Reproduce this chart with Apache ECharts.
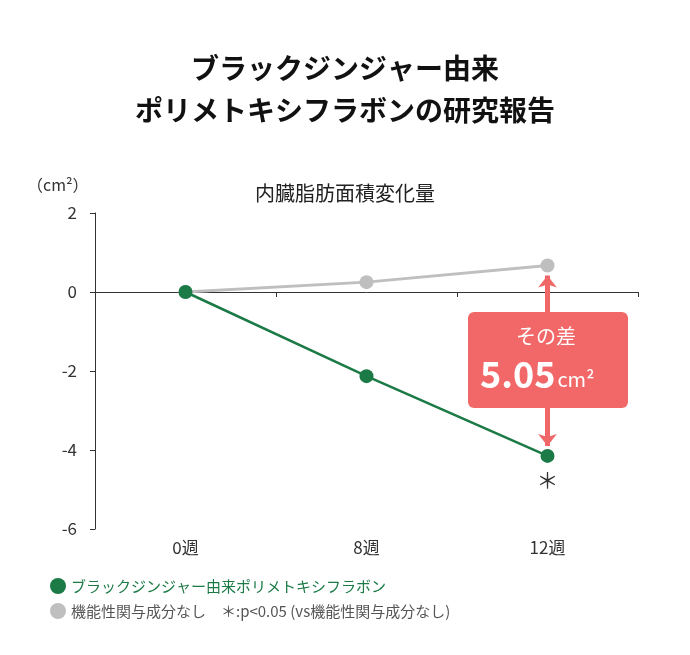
<!DOCTYPE html>
<html><head><meta charset="utf-8">
<script src="https://cdn.jsdelivr.net/npm/echarts@6/dist/echarts.min.js"></script>
<style>html,body{margin:0;background:#fff}#c{width:690px;height:655px}</style>
</head><body><div id="c"></div>
<script>
const categories = ['0週','8週','12週'];
const greenName = 'ブラックジンジャー由来ポリメトキシフラボン';
const grayName = '機能性関与成分なし';
const greenValues = [0, -2.13, -4.15];
const grayValues = [0, 0.25, 0.67];
const yTicks = [-6, -4, -2, 0, 2];
const diffLabel = '5.05';

const F = '"Noto Sans CJK JP","Noto Sans",sans-serif';
const chart = echarts.init(document.getElementById('c'));
chart.setOption({
  textStyle:{fontFamily:F},
  title:[
    {text:'ブラックジンジャー由来\nポリメトキシフラボンの研究報告',left:'center',top:42,
     textStyle:{fontSize:28,fontWeight:'bold',color:'#111',lineHeight:42,fontFamily:F}},
    {text:'内臓脂肪面積変化量',left:'center',top:178,textStyle:{fontSize:20,fontWeight:'normal',color:'#222',fontFamily:F}},
    {text:'（cm²）',left:22,top:172,textStyle:{fontSize:16,fontWeight:'normal',color:'#333',fontFamily:F}}
  ],
  grid:{left:95,right:52,top:213,bottom:126},
  legend:{orient:'vertical',left:45,top:573,itemGap:9,itemWidth:16,itemHeight:16,icon:'circle',
    data:[{name:greenName,textStyle:{color:'#1b7a45'}},{name:grayName,textStyle:{color:'#555'}}],
    formatter:n=>n===grayName? n+'　＊:p<0.05 (vs機能性関与成分なし)':n,
    textStyle:{fontSize:15,fontFamily:F}},
  xAxis:[
    {type:'category',data:categories,boundaryGap:true,axisLine:{onZero:true,lineStyle:{color:'#333'}},
     axisTick:{show:true,length:5,lineStyle:{color:'#333'}},axisLabel:{show:false}},
    {type:'category',data:categories,position:'bottom',offset:0,boundaryGap:true,axisLine:{show:false},axisTick:{show:false},
     axisLabel:{fontSize:17,color:'#333',margin:10}}
  ],
  yAxis:{type:'value',min:-6,max:2,interval:2,axisLine:{show:true,lineStyle:{color:'#333'}},
    axisTick:{show:true,length:5,lineStyle:{color:'#333'}},splitLine:{show:false},
    axisLabel:{fontSize:17,color:'#333',margin:18}},
  series:[
    {name:grayName,type:'line',data:grayValues,symbol:'circle',symbolSize:14,
     itemStyle:{color:'#bfbfbf'},lineStyle:{color:'#bfbfbf',width:3},z:2},
    {name:greenName,type:'line',data:greenValues,symbol:'circle',symbolSize:14,
     itemStyle:{color:'#1b7a45'},lineStyle:{color:'#1b7a45',width:2.5},z:3,
     markLine:{silent:true,symbol:['arrow','arrow'],symbolSize:[14,12],
       lineStyle:{color:'#f06767',width:5,type:'solid'},label:{show:false},
       data:[[{coord:['12週',grayValues[2]-0.25]},{coord:['12週',greenValues[2]+0.25]}]]},
     markPoint:{symbol:'circle',symbolSize:1,itemStyle:{color:'transparent'},
       label:{show:true,formatter:'＊',fontSize:22,color:'#333',offset:[0,24]},
       data:[{coord:['12週',greenValues[2]]}]}}
  ],
  graphic:[
    {type:'rect',left:468,top:312,shape:{width:160,height:96,r:6},style:{fill:'#f26868'},z:10},
    {type:'text',left:'center',top:326,x:203,style:{text:'その差',fill:'#fff',font:'20px '+F},z:11,left:516},
    {type:'text',left:480,top:356,style:{
      text:'{a|'+diffLabel+'}{b|cm²}',rich:{a:{fontSize:36,fontWeight:'bold',fill:'#fff',fontFamily:F},
      b:{fontSize:20,fill:'#fff',fontFamily:F,padding:[10,0,0,2]}}},z:11}
  ]
});
</script></body></html>
